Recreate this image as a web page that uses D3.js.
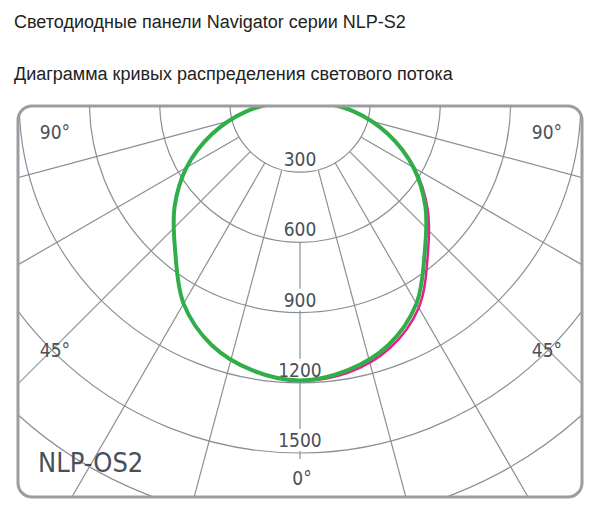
<!DOCTYPE html>
<html><head><meta charset="utf-8">
<script src="https://cdn.jsdelivr.net/npm/d3@7"></script>
<style>body{margin:0;background:#fff}</style>
</head><body>
<svg id="chart" width="600" height="515"></svg>
<script>
const angles = [0, 10, 20, 30, 40, 50, 60, 70, 80, 90];
const c0 = [1190, 1165, 1105, 995, 830, 700, 560, 400, 235, 70];
const c90 = [1195, 1175, 1120, 1015, 850, 712, 565, 402, 235, 70];
const rings = [300, 600, 900, 1200, 1500, 1800, 2100, 2400];
const ringLabels = [300, 600, 900, 1200, 1500];
const spokes = [-75, -60, -45, -30, -15, 15, 30, 45, 60, 75];

const svg = d3.select("#chart");
const cx = 300, cy = 102;
const r = d3.scaleLinear().domain([0, 300]).range([0, 70.2]);
const grid = "#8a8f94";

svg.append("text").attr("x", 14).attr("y", 28).attr("font-family", "Liberation Sans, Arial")
  .attr("font-size", 18).attr("fill", "#222").text("Светодиодные панели Navigator серии NLP-S2");
svg.append("text").attr("x", 14).attr("y", 80).attr("font-family", "Liberation Sans, Arial")
  .attr("font-size", 18).attr("fill", "#222").text("Диаграмма кривых распределения светового потока");

const defs = svg.append("defs");
defs.append("clipPath").attr("id", "frame").append("rect")
  .attr("x", 18).attr("y", 106).attr("width", 564).attr("height", 391).attr("rx", 14);

const g = svg.append("g").attr("clip-path", "url(#frame)");
g.selectAll("circle.ring").data(rings).enter().append("circle")
  .attr("cx", cx).attr("cy", cy).attr("r", d => r(d))
  .attr("fill", "none").attr("stroke", grid).attr("stroke-width", 1.2);

// angle measured from straight down
const pt = (deg, val) => {
  const a = deg * Math.PI / 180;
  return [cx + Math.sin(a) * r(val), cy + Math.cos(a) * r(val)];
};
g.selectAll("line.spoke").data(spokes).enter().append("line")
  .attr("x1", d => pt(d, 300)[0]).attr("y1", d => pt(d, 300)[1])
  .attr("x2", d => pt(d, 3000)[0]).attr("y2", d => pt(d, 3000)[1])
  .attr("stroke", grid).attr("stroke-width", 1.2);
g.append("line").attr("x1", cx).attr("x2", cx)
  .attr("y1", cy + r(600)).attr("y2", cy + r(1500) + 6)
  .attr("stroke", grid).attr("stroke-width", 1.2);

const font = "Liberation Sans Narrow, DejaVu Sans Condensed, sans-serif";
const lab = svg.append("g").attr("font-family", font).attr("fill", "#4a5058")
  .attr("text-anchor", "middle").attr("font-size", 19);
ringLabels.forEach(v => {
  const t = lab.append("text").attr("x", cx).attr("y", cy + r(v) - 6).text(v);
  const b = t.node().getBBox();
  lab.insert("rect", "text").attr("x", b.x - 2).attr("y", b.y).attr("width", b.width + 4)
    .attr("height", b.height).attr("fill", "#fff");
});
[[55, 139, "90°"], [547, 139, "90°"], [55, 357, "45°"], [547, 357, "45°"], [302, 485, "0°"]]
  .forEach(d => lab.append("text").attr("x", d[0]).attr("y", d[1]).text(d[2]));
lab.append("text").attr("x", 38).attr("y", 472).attr("text-anchor", "start")
  .attr("font-size", 27).text("NLP-OS2");

const curve = (vals, side) => {
  const pts = [];
  for (let i = angles.length - 1; i >= 0; i--) pts.push(pt(-angles[i], vals[i]));
  for (let i = 1; i < angles.length; i++) pts.push(pt(angles[i], side[i]));
  return d3.line().curve(d3.curveCatmullRomClosed)(pts);
};
const cg = svg.append("g").attr("clip-path", "url(#frame)");
cg.append("path").attr("d", curve(c0, c90)).attr("fill", "none")
  .attr("stroke", "#e3238c").attr("stroke-width", 2.5);
cg.append("path").attr("d", curve(c0, c0)).attr("fill", "none")
  .attr("stroke", "#2fae4a").attr("stroke-width", 4);

svg.append("rect").attr("x", 18).attr("y", 106).attr("width", 564).attr("height", 391)
  .attr("rx", 14).attr("fill", "none").attr("stroke", "#9a9ea3").attr("stroke-width", 3);
</script>
</body></html>
